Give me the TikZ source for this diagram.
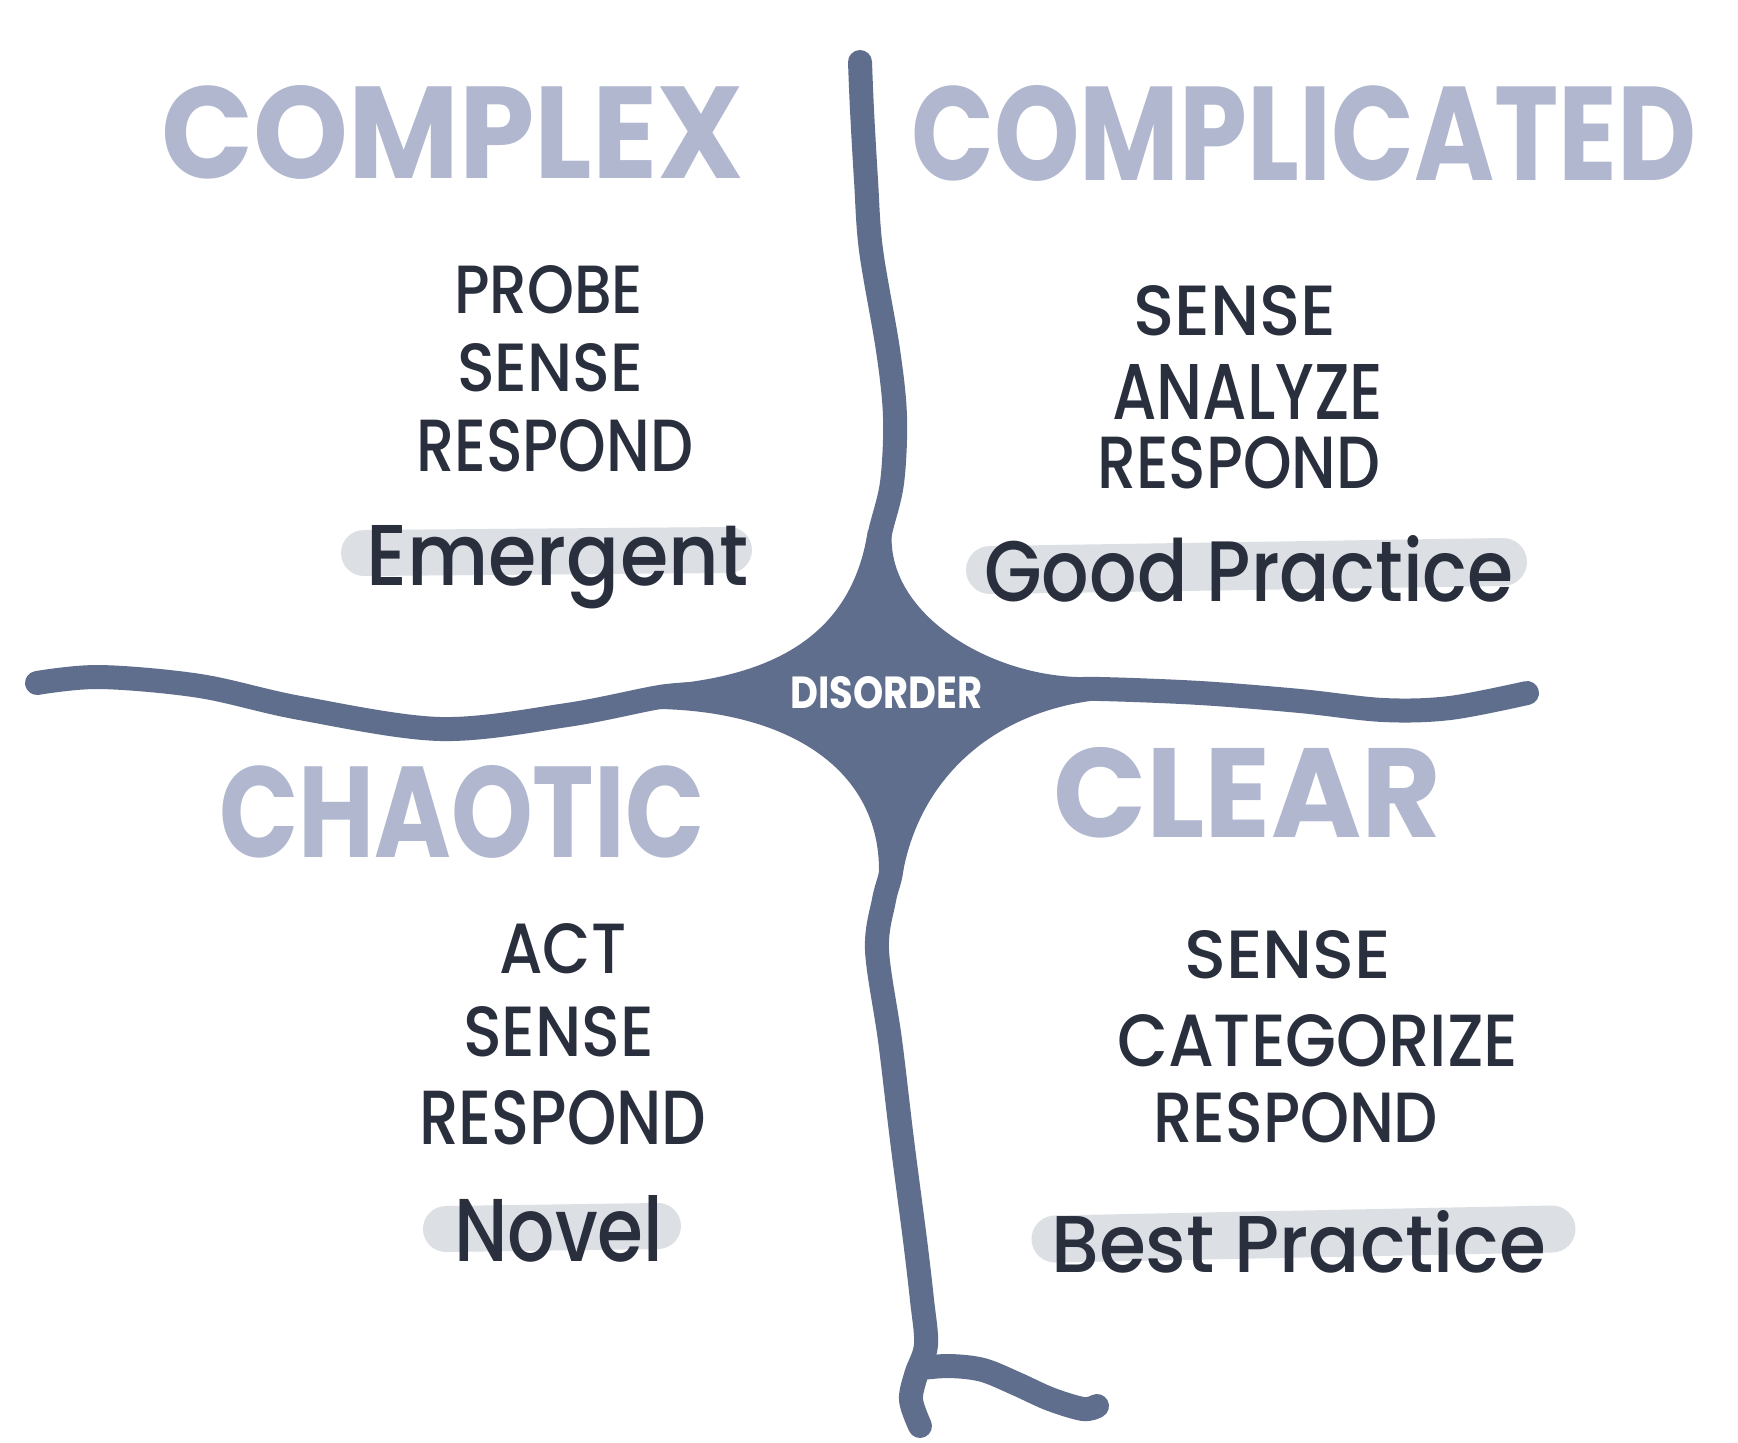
\documentclass[tikz,border=0pt]{standalone}
\usepackage{fontspec}
\usepackage{graphicx}
\newfontfamily\pfont{Poppins}
\newfontfamily\mfont{Poppins Medium}
\definecolor{armc}{RGB}{96,110,141}
\definecolor{titlec}{RGB}{176,183,206}
\definecolor{textc}{RGB}{42,47,62}
\definecolor{hlc}{RGB}{220,223,228}
\newcommand{\fitbox}[3]{\resizebox{#1pt}{#2pt}{#3}}
\tikzset{
  armline/.style={draw=armc, line width=24pt, line cap=round, line join=round},
  ttl/.style={anchor=base west, inner sep=0pt, text=titlec, font=\pfont\bfseries},
  txt/.style={anchor=base west, inner sep=0pt, text=textc, font=\mfont},
  hlline/.style={draw=hlc, line width=46pt, line cap=round}
}
\begin{document}
\begin{tikzpicture}[x=1pt,y=-1pt]
\useasboundingbox (0,0) rectangle (1738,1443);
\fill[white] (0,0) rectangle (1738,1443);

% highlights
\draw[hlline] (364,553) -- (729,550);
\draw[hlline, line width=48pt] (990,570) -- (1503,562);
\draw[hlline] (446,1229) -- (658,1226);
\draw[hlline, line width=47pt] (1055,1239) -- (1552,1229);

% arms
\draw[armline] plot[smooth, tension=0.55] coordinates {(860,62) (862,110) (866,180) (871,250) (888,350) (895,417) (892,483) (880,533) (874,570)};
\draw[armline] plot[smooth, tension=0.55] coordinates {(37,683) (100,677) (200,686) (300,708) (440,729) (567,715) (660,697) (700,694)};
\draw[armline] plot[smooth, tension=0.55] coordinates {(1060,690) (1100,689) (1200,693) (1300,701) (1383,710) (1450,708) (1527,693)};
\draw[armline] plot[smooth, tension=0.55] coordinates {(892,840) (891,872) (884,900) (877,950) (890,1040) (902,1140) (915,1240) (922,1300) (926,1345) (916,1375) (911,1400) (920,1426)};
\draw[armline] plot[smooth, tension=0.55] coordinates {(922,1368) (950,1366) (983,1370) (1017,1384) (1050,1399) (1083,1409) (1097,1406)};

% central blob
\fill[armc] (868,530) .. controls (855,615) and (800,675) .. (660,685)
  -- (660,709) .. controls (790,712) and (880,770) .. (879,872)
  -- (903,872) .. controls (920,780) and (990,715) .. (1090,701)
  -- (1090,677) .. controls (995,680) and (884,615) .. (892,530) -- cycle;

\node[anchor=base west, inner sep=0pt, text=white, font=\pfont\bfseries] (disorder) at (790,708) {\fitbox{192}{32}{DISORDER}};

% titles
\node[ttl] (complex) at (161,178) {\fitbox{582}{93}{COMPLEX}};
\node[ttl] (complicated) at (911,180) {\fitbox{785}{95}{COMPLICATED}};
\node[ttl] (chaotic) at (219,857) {\fitbox{485}{92}{CHAOTIC}};
\node[ttl] (clear) at (1053,837) {\fitbox{388}{90}{CLEAR}};

% complex
\node[txt] (cx1) at (454,313) {\fitbox{189}{48}{PROBE}};
\node[txt] (cx2) at (457,391) {\fitbox{186}{48}{SENSE}};
\node[txt] (cx3) at (416,471) {\fitbox{277}{52}{RESPOND}};
\node[txt] (cx4) at (366,585) {\fitbox{382}{60}{Emergent}};

% complicated
\node[txt] (cp1) at (1133,335) {\fitbox{203}{50}{SENSE}};
\node[txt] (cp2) at (1112,419) {\fitbox{271}{55}{ANALYZE}};
\node[txt] (cp3) at (1097,488) {\fitbox{283}{52}{RESPOND}};
\node[txt] (cp4) at (984,601) {\fitbox{529}{66}{Good Practice}};

% chaotic
\node[txt] (ch1) at (499,973) {\fitbox{127}{50}{ACT}};
\node[txt] (ch2) at (463,1056) {\fitbox{191}{50}{SENSE}};
\node[txt] (ch3) at (419,1144) {\fitbox{287}{54}{RESPOND}};
\node[txt] (ch4) at (454,1261) {\fitbox{209}{66}{Novel}};

% clear
\node[txt] (cl1) at (1184,978) {\fitbox{207}{48}{SENSE}};
\node[txt] (cl2) at (1117,1066) {\fitbox{401}{52}{CATEGORIZE}};
\node[txt] (cl3) at (1153,1142) {\fitbox{285}{50}{RESPOND}};
\node[txt] (cl4) at (1051,1272) {\fitbox{495}{62}{Best Practice}};
\end{tikzpicture}
\end{document}
